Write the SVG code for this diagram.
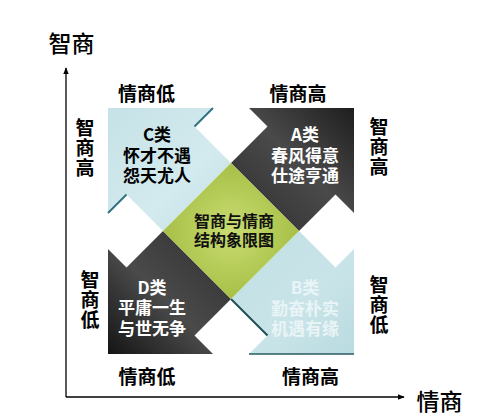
<svg xmlns="http://www.w3.org/2000/svg" width="486" height="417" viewBox="0 0 486 417">
<style>
text{font-family:"Noto Sans CJK SC","Noto Sans",sans-serif;font-weight:700;text-anchor:middle}
.ax{font-size:23px;font-weight:500;fill:#000}
.lb{font-size:19px;fill:#000}
.vt{font-size:19px;fill:#000;writing-mode:vertical-rl;text-anchor:start;letter-spacing:1px}
.ar{font-size:17px}
.dk{fill:#000}
.wt{fill:#fff}
.fw{fill:#e9f4f6}
.ctr{font-size:16px;fill:#111}
.axis{stroke:#000;stroke-width:1.3;fill:none}
</style>
<defs>
<marker id="ah" viewBox="0 0 10 10" refX="9" refY="5" markerWidth="7" markerHeight="7" orient="auto" markerUnits="userSpaceOnUse">
<path d="M0,1 L10,5 L0,9 Z" fill="#000"/>
</marker>
<linearGradient id="gA" x1="354" y1="108" x2="231" y2="231" gradientUnits="userSpaceOnUse">
<stop offset="0" stop-color="#1e1e1e"/><stop offset="0.45" stop-color="#4a4a4a"/><stop offset="1" stop-color="#2c2c2c"/>
</linearGradient>
<linearGradient id="gD" x1="231" y1="231" x2="108" y2="354" gradientUnits="userSpaceOnUse">
<stop offset="0" stop-color="#2e2e2e"/><stop offset="0.55" stop-color="#4a4a4a"/><stop offset="1" stop-color="#151515"/>
</linearGradient>
<linearGradient id="gC" x1="108" y1="108" x2="231" y2="231" gradientUnits="userSpaceOnUse">
<stop offset="0" stop-color="#c6e2e7"/><stop offset="0.6" stop-color="#d3eaee"/><stop offset="1" stop-color="#c2dfe4"/>
</linearGradient>
<linearGradient id="gB" x1="231" y1="231" x2="354" y2="354" gradientUnits="userSpaceOnUse">
<stop offset="0" stop-color="#c0dfe4"/><stop offset="0.6" stop-color="#c9e4e8"/><stop offset="1" stop-color="#b9dbe1"/>
</linearGradient>
<radialGradient id="gG" cx="231" cy="231" r="70" gradientUnits="userSpaceOnUse">
<stop offset="0" stop-color="#c9dc72"/><stop offset="1" stop-color="#a6bf45"/>
</radialGradient>
</defs>

<g id="connectors">
<line class="axis" x1="66" y1="397" x2="66" y2="68" marker-end="url(#ah)"/>
<line class="axis" x1="66" y1="397" x2="404" y2="397" marker-end="url(#ah)"/>
</g>

<g id="node-C">
<polygon points="108,108 213,108 194.5,126.5 231,163 163,231 126.5,194.5 108,213" fill="url(#gC)"/>
<path d="M213,108 L194.5,126.5 M108,213 L126.5,194.5" stroke="#2f7482" stroke-width="2" fill="none"/>
<text class="ar dk"><tspan x="157" y="140.5">C类</tspan><tspan x="157" y="161.5">怀才不遇</tspan><tspan x="157" y="181.5">怨天尤人</tspan></text>
</g>

<g id="node-A">
<polygon points="354,108 354,213 335.5,194.5 299,231 231,163 267.5,126.5 249,108" fill="url(#gA)"/>
<text class="ar wt"><tspan x="305" y="140.5">A类</tspan><tspan x="305" y="161.5">春风得意</tspan><tspan x="305" y="181.5">仕途亨通</tspan></text>
</g>

<g id="node-B">
<polygon points="354,354 249,354 267.5,335.5 231,299 299,231 335.5,267.5 354,249" fill="url(#gB)"/>
<path d="M231,299 L267.5,335.5" stroke="#1f4d55" stroke-width="2" fill="none"/>
<path d="M249,354 L354,354" stroke="#2a5a62" stroke-width="1.5" fill="none"/>
<text class="ar fw"><tspan x="305" y="293.5">B类</tspan><tspan x="305" y="314.5">勤奋朴实</tspan><tspan x="305" y="334.5">机遇有缘</tspan></text>
</g>

<g id="node-D">
<polygon points="108,354 108,249 126.5,267.5 163,231 231,299 194.5,335.5 213,354" fill="url(#gD)"/>
<text class="ar wt"><tspan x="152" y="293.5">D类</tspan><tspan x="152" y="313.5">平庸一生</tspan><tspan x="152" y="334.5">与世无争</tspan></text>
</g>

<g id="node-center">
<polygon points="231,163 299,231 231,299 163,231" fill="url(#gG)"/>
<text class="ctr"><tspan x="234" y="227">智商与情商</tspan><tspan x="234" y="246">结构象限图</tspan></text>
</g>

<g id="axis-labels">
<text class="ax" x="71.5" y="52">智商</text>
<text class="ax" x="439.5" y="410">情商</text>
</g>

<g id="labels">
<text class="lb" x="146.5" y="101">情商低</text>
<text class="lb" x="298" y="101">情商高</text>
<text class="lb" x="147" y="384">情商低</text>
<text class="lb" x="310.5" y="384">情商高</text>
<text class="vt" x="85" y="118">智商高</text>
<text class="vt" x="379" y="117">智商高</text>
<text class="vt" x="90" y="270">智商低</text>
<text class="vt" x="379" y="275">智商低</text>
</g>
</svg>
